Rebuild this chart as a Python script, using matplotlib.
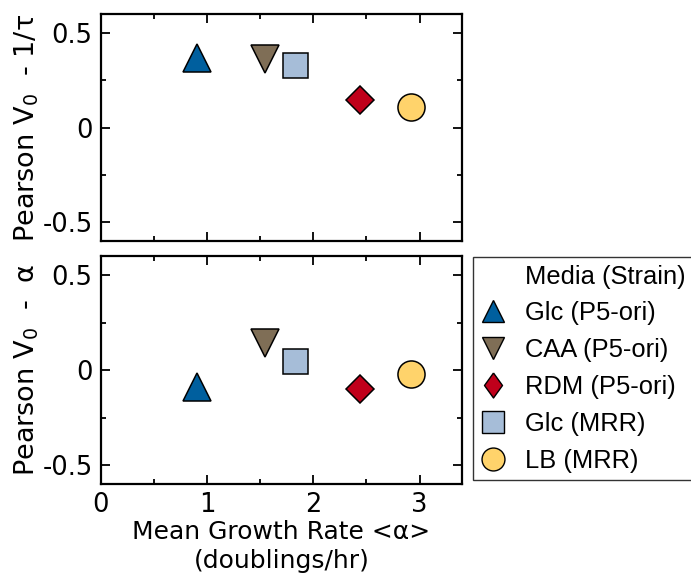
import matplotlib
matplotlib.use("Agg")
import matplotlib.pyplot as plt
from matplotlib.lines import Line2D
from matplotlib.ticker import MultipleLocator

# data
labels = ["Glc (P5-ori)", "CAA (P5-ori)", "RDM (P5-ori)", "Glc (MRR)", "LB (MRR)"]
growth_rate = [0.90, 1.54, 2.44, 1.83, 2.92]
pearson_tau = [0.365, 0.36, 0.147, 0.33, 0.11]
pearson_alpha = [-0.09, 0.14, -0.10, 0.05, -0.02]

markers = ["^", "v", "D", "s", "o"]
sizes = [20, 20, 14, 18, 19.5]
colors = ["#005f9e", "#7f6e56", "#c0001b", "#a6bdd8", "#ffd36b"]

plt.rcParams["font.family"] = "DejaVu Sans"

fig = plt.figure(figsize=(6.91, 5.80), dpi=100)
W, H = 691.0, 580.0
ax_top = fig.add_axes([101 / W, 1 - 241 / H, 361 / W, 227 / H])
ax_bot = fig.add_axes([101 / W, 1 - 484 / H, 361 / W, 228 / H])


def style_axis(ax, ylabel):
    ax.set_xlim(0, 3.4)
    ax.set_ylim(-0.6, 0.6)
    ax.xaxis.set_major_locator(MultipleLocator(1))
    ax.xaxis.set_minor_locator(MultipleLocator(0.5))
    ax.set_yticks([-0.5, 0, 0.5])
    ax.set_yticklabels(["-0.5", "0", "0.5"])
    ax.yaxis.set_minor_locator(MultipleLocator(0.25))
    ax.tick_params(which="both", direction="in", top=True, right=True,
                   width=1.3, labelsize=18.5, pad=6)
    ax.tick_params(which="major", length=6.5)
    ax.tick_params(which="minor", length=3.6)
    for sp in ax.spines.values():
        sp.set_linewidth(1.6)
    ax.set_ylabel(ylabel, fontsize=19.5, labelpad=1)


for ax, vals in [(ax_top, pearson_tau), (ax_bot, pearson_alpha)]:
    for x, y, m, s, c in zip(growth_rate, vals, markers, sizes, colors):
        ax.plot(x, y, linestyle="none", marker=m, markersize=s,
                markerfacecolor=c, markeredgecolor="black", markeredgewidth=1.1)

style_axis(ax_top, r"Pearson V$_0$  - 1/τ")
style_axis(ax_bot, r"Pearson V$_0$  -  α")
ax_top.tick_params(labelbottom=False)
ax_bot.set_xticks([0, 1, 2, 3])
ax_bot.set_xlabel("Mean Growth Rate <α>\n(doublings/hr)", fontsize=18,
                  linespacing=1.3, labelpad=1)
fig.align_ylabels([ax_top, ax_bot])

# legend with a header row; the legend diamond is taller than wide
tall_diamond = [(0, 1), (0.72, 0), (0, -1), (-0.72, 0), (0, 1)]
handles = [Line2D([], [], linestyle="none", marker=None)]
leg_labels = ["Media (Strain)"]
legend_sizes = [16.5, 16.5, 18, 16, 16.5]
legend_markers = ["^", "v", tall_diamond, "s", "o"]
for lab, m, s, c in zip(labels, legend_markers, legend_sizes, colors):
    handles.append(Line2D([], [], linestyle="none", marker=m, markersize=s,
                          markerfacecolor=c, markeredgecolor="black",
                          markeredgewidth=1.0))
    leg_labels.append(lab)

leg = fig.legend(handles, leg_labels, loc="upper left", mode="expand",
                 bbox_to_anchor=(473 / W, 1 - 257 / H, 240 / W, 0),
                 prop={"family": "Liberation Sans", "size": 18.4},
                 frameon=True, fancybox=False, edgecolor="black",
                 borderpad=0.3, labelspacing=0.5, handlelength=1.0,
                 handletextpad=0.75, borderaxespad=0)
leg.get_frame().set_linewidth(1.0)

fig.savefig("out.png", dpi=100)
